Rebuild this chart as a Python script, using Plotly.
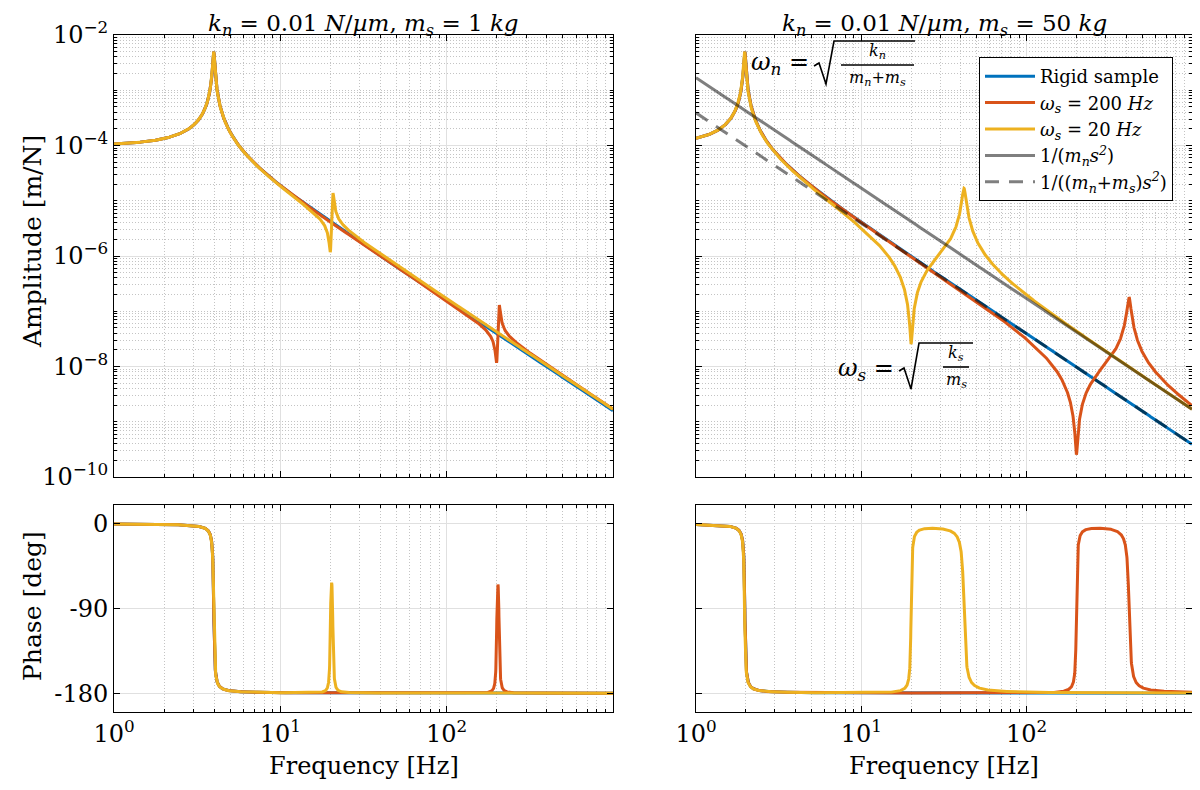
import numpy as np
import plotly.graph_objects as go

# ---------------- data / model parameters ----------------
k_n = 1e4                      # 0.01 N/um
m_n = 15.0                     # kg (from the 4 Hz / 2 Hz resonances)
xi_n = 0.01                    # damping ratio of the suspension mode
xi_s = 0.01                    # damping ratio of the sample mode
sample_masses = [1.0, 50.0]    # kg, left / right panel
sample_freqs = [200.0, 20.0]   # Hz, sample resonance frequencies
series_names = ["Rigid sample", "<i>ω<sub>s</sub></i> = 200 <i>Hz</i>", "<i>ω<sub>s</sub></i> = 20 <i>Hz</i>"]
series_colors = ["#0072BD", "#D95319", "#EDB120"]
titles = ["<i>k<sub>n</sub></i> = 0.01 <i>N</i>/<i>µm</i>, <i>m<sub>s</sub></i> = 1 <i>kg</i>",
          "<i>k<sub>n</sub></i> = 0.01 <i>N</i>/<i>µm</i>, <i>m<sub>s</sub></i> = 50 <i>kg</i>"]
amp_tick_vals = [1e-10, 1e-8, 1e-6, 1e-4, 1e-2]
amp_tick_text = ["10<sup>−10</sup>", "10<sup>−8</sup>", "10<sup>−6</sup>", "10<sup>−4</sup>", "10<sup>−2</sup>"]
freq_tick_vals = [1, 10, 100]
freq_tick_text = ["10<sup>0</sup>", "10<sup>1</sup>", "10<sup>2</sup>"]
phase_tick_vals = [-180, -90, 0]
phase_tick_text = ["-180", "-90", "0"]

freqs = np.logspace(0, 3, 4000)
s = 1j * 2 * np.pi * freqs


def rigid(m_s):
    m = m_n + m_s
    c_n = 2 * xi_n * np.sqrt(k_n * m)
    return 1.0 / (m * s**2 + c_n * s + k_n)


def flexible(m_s, f_s):
    c_n = 2 * xi_n * np.sqrt(k_n * (m_n + m_s))
    k_s = m_s * (2 * np.pi * f_s) ** 2
    c_s = 2 * xi_s * np.sqrt(k_s * m_s)
    num = m_s * s**2 + c_s * s + k_s
    den = (m_n * s**2 + (c_n + c_s) * s + k_n + k_s) * (m_s * s**2 + c_s * s + k_s) - (c_s * s + k_s) ** 2
    return num / den


def phase_deg(G):
    return np.degrees(np.unwrap(np.angle(G)))


# the page body adds an 8 px offset; the figure is sized so that it fits the window
OFF = 8
W, H = 1184, 774


def px(x):
    return min(1.0, max(0.0, (x - OFF) / W))


def py(y):
    return min(1.0, max(0.0, 1 - (y - OFF) / H))


fig = go.Figure()

FONT = "DejaVu Serif, Liberation Serif, serif"
axes_amp = ["", "2"]
axes_ph = ["3", "4"]

for p, m_s in enumerate(sample_masses):
    curves = [rigid(m_s)] + [flexible(m_s, f) for f in sample_freqs]
    for i, G in enumerate(curves):
        fig.add_trace(go.Scatter(x=freqs, y=np.abs(G), mode="lines",
                                 line=dict(color=series_colors[i], width=3),
                                 name=series_names[i], showlegend=(p == 1),
                                 xaxis="x" + axes_amp[p], yaxis="y" + axes_amp[p]))
    if p == 1:
        fig.add_trace(go.Scatter(x=freqs, y=np.abs(1 / (m_n * s**2)), mode="lines",
                                 line=dict(color="rgba(0,0,0,0.5)", width=3),
                                 name="1/(<i>m<sub>n</sub>s<sup>2</sup></i>)",
                                 xaxis="x2", yaxis="y2"))
        fig.add_trace(go.Scatter(x=freqs, y=np.abs(1 / ((m_n + m_s) * s**2)), mode="lines",
                                 line=dict(color="rgba(0,0,0,0.5)", width=3, dash="14px,10px"),
                                 name="1/((<i>m<sub>n</sub></i>+<i>m<sub>s</sub></i>)<i>s<sup>2</sup></i>)",
                                 xaxis="x2", yaxis="y2"))
    for i, G in enumerate(curves):
        fig.add_trace(go.Scatter(x=freqs, y=phase_deg(G), mode="lines",
                                 line=dict(color=series_colors[i], width=3),
                                 showlegend=False,
                                 xaxis="x" + axes_ph[p], yaxis="y" + axes_ph[p]))

minor_x = [k * 10**e for e in range(0, 3) for k in range(2, 10)]
minor_y = [k * 10.0**e for e in range(-10, -2) for k in range(1, 10)
           if not (k == 1 and e % 2 == 0)]

grid_major = "#e0e0e0"
grid_minor = "#c4c4c4"
minor_dash = "1px,2px"
tickfont = dict(family=FONT, size=24, color="black")

xdom = [[px(114), px(613)], [px(696), px(1194)]]
ydom_amp = [py(477), py(35)]
ydom_ph = [py(712), py(505)]


def xaxis(dom, anchor, show_labels):
    return dict(type="log", range=[0, 3], domain=dom, anchor=anchor,
                tickvals=freq_tick_vals, ticktext=freq_tick_text, showticklabels=show_labels,
                ticks="inside", ticklen=6, tickcolor="black",
                showline=True, linecolor="black", linewidth=1, mirror="ticks",
                showgrid=True, gridcolor=grid_major, gridwidth=1, zeroline=False,
                minor=dict(tickvals=minor_x, ticks="inside", ticklen=3, tickcolor="black",
                           showgrid=True, gridcolor=grid_minor, griddash=minor_dash, gridwidth=1),
                tickfont=tickfont, automargin=False)


def yamp(dom, anchor, show_labels):
    return dict(type="log", range=[-10, -2], domain=dom, anchor=anchor,
                tickvals=amp_tick_vals, ticktext=amp_tick_text, showticklabels=show_labels,
                ticks="inside", ticklen=6, tickcolor="black",
                showline=True, linecolor="black", linewidth=1, mirror="ticks",
                showgrid=True, gridcolor=grid_major, gridwidth=1, zeroline=False,
                minor=dict(tickvals=minor_y, ticks="inside", ticklen=3, tickcolor="black",
                           showgrid=True, gridcolor=grid_minor, griddash=minor_dash, gridwidth=1),
                tickfont=tickfont, automargin=False)


def yph(dom, anchor, show_labels):
    return dict(range=[-200, 20], domain=dom, anchor=anchor,
                tickvals=phase_tick_vals, ticktext=phase_tick_text, showticklabels=show_labels,
                ticks="inside", ticklen=6, tickcolor="black",
                showline=True, linecolor="black", linewidth=1, mirror="ticks",
                showgrid=True, gridcolor=grid_major, gridwidth=1, zeroline=False,
                tickfont=tickfont, automargin=False)


annotations = []
for p in range(2):
    cx = (xdom[p][0] + xdom[p][1]) / 2
    annotations.append(dict(text=titles[p], x=cx, y=1.0, xref="paper", yref="paper",
                            showarrow=False, font=dict(family=FONT, size=23, color="black"),
                            xanchor="center", yanchor="top"))
    annotations.append(dict(text="Frequency [Hz]", x=cx, y=0.0, xref="paper", yref="paper",
                            showarrow=False, font=dict(family=FONT, size=24, color="black"),
                            xanchor="center", yanchor="bottom"))
annotations.append(dict(text="Amplitude [m/N]", x=px(32), y=py(242), xref="paper", yref="paper",
                        showarrow=False, textangle=-90, font=dict(family=FONT, size=25, color="black"),
                        xanchor="center", yanchor="middle"))
annotations.append(dict(text="Phase [deg]", x=px(32), y=py(606), xref="paper", yref="paper",
                        showarrow=False, textangle=-90, font=dict(family=FONT, size=25, color="black"),
                        xanchor="center", yanchor="middle"))

shapes = []


def sqrt_fraction(lhs, num, den, x_lhs_right, y_mid, rad_x0, bar_x1, bar_y, frac_y, frac_x0, frac_x1, fs_l, fs_f):
    annotations.append(dict(text=lhs, x=px(x_lhs_right), y=py(y_mid), xref="paper", yref="paper",
                            showarrow=False, xanchor="right", yanchor="middle",
                            font=dict(family=FONT, size=fs_l, color="black")))
    path = "M {a},{b} L {c},{d} L {e},{f} L {g},{h} L {i},{j}".format(
        a=px(rad_x0), b=py(y_mid + 2), c=px(rad_x0 + 5), d=py(y_mid - 1),
        e=px(rad_x0 + 12), f=py(y_mid + 20), g=px(rad_x0 + 20), h=py(bar_y),
        i=px(bar_x1), j=py(bar_y))
    shapes.append(dict(type="path", path=path, xref="paper", yref="paper",
                       line=dict(color="black", width=1.6)))
    shapes.append(dict(type="line", x0=px(frac_x0), x1=px(frac_x1), y0=py(frac_y), y1=py(frac_y),
                       xref="paper", yref="paper", line=dict(color="black", width=1.6)))
    cxf = px((frac_x0 + frac_x1) / 2)
    annotations.append(dict(text=num, x=cxf, y=py(frac_y - 1), xref="paper", yref="paper",
                            showarrow=False, xanchor="center", yanchor="bottom",
                            font=dict(family=FONT, size=fs_f, color="black")))
    annotations.append(dict(text=den, x=cxf, y=py(frac_y + 1), xref="paper", yref="paper",
                            showarrow=False, xanchor="center", yanchor="top",
                            font=dict(family=FONT, size=fs_f, color="black")))


sqrt_fraction("<i>ω<sub>n</sub></i> =", "<i>k<sub>n</sub></i>", "<i>m<sub>n</sub></i>+<i>m<sub>s</sub></i>",
              811, 64, 814, 915, 41, 65, 841, 914, 24, 16)
sqrt_fraction("<i>ω<sub>s</sub></i> =", "<i>k<sub>s</sub></i>", "<i>m<sub>s</sub></i>",
              896, 369, 899, 973, 343, 367, 943, 969, 24, 16)

fig.update_layout(
    width=W, height=H,
    margin=dict(l=0, r=0, t=0, b=0),
    paper_bgcolor="white", plot_bgcolor="white",
    font=dict(family=FONT, color="black"),
    xaxis=xaxis(xdom[0], "y", False), yaxis=yamp(ydom_amp, "x", True),
    xaxis2=xaxis(xdom[1], "y2", False), yaxis2=yamp(ydom_amp, "x2", False),
    xaxis3=xaxis(xdom[0], "y3", True), yaxis3=yph(ydom_ph, "x3", True),
    xaxis4=xaxis(xdom[1], "y4", True), yaxis4=yph(ydom_ph, "x4", False),
    legend=dict(x=px(1173), y=py(57), xanchor="right", yanchor="top",
                bgcolor="white", bordercolor="black", borderwidth=1,
                font=dict(family=FONT, size=18, color="black"),
                itemwidth=50, tracegroupgap=0),
    annotations=annotations, shapes=shapes,
    showlegend=True,
)

fig.write_html("out.html")
